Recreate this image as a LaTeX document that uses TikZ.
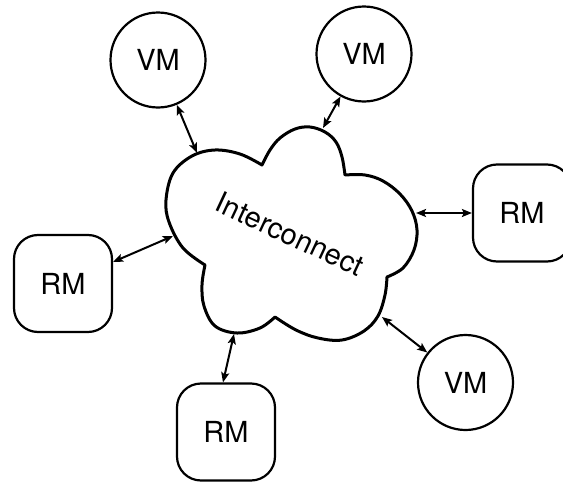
\documentclass[tikz,border=0pt]{standalone}
\usepackage{fontspec}
\setmainfont{TeX Gyre Heros}
\usetikzlibrary{arrows.meta}
\begin{document}
\begin{tikzpicture}[x=1pt,y=-1pt,
  vmnode/.style={circle,draw,line width=2.2pt,minimum size=95pt,inner sep=0pt,font=\fontsize{29}{34}\selectfont},
  rmnode/.style={rectangle,rounded corners=24pt,draw,line width=2.2pt,minimum width=98pt,minimum height=97pt,inner sep=0pt,font=\fontsize{29}{34}\selectfont},
  link/.style={line width=2pt,{Stealth[length=10pt,width=8pt,inset=2pt]}-{Stealth[length=10pt,width=8pt,inset=2pt]}},
  cloudline/.style={line width=3pt,line join=round}
]
\useasboundingbox (0,0) rectangle (563,482);
% cloud outline
\draw[cloudline]
  plot[smooth,tension=0.6] coordinates {(262,165) (270,150) (280,138) (295,129) (310,127) (325,132) (336,142) (342,157) (345,175)}
  -- plot[smooth,tension=0.6] coordinates {(345,175) (365,175) (383,181) (400,194) (412,211) (417,230) (414,250) (403,268) (387,277)}
  -- plot[smooth,tension=0.6] coordinates {(387,277) (385,295) (378,316) (364,331) (342,340) (318,338) (296,330) (275,317)}
  -- plot[smooth,tension=0.6] coordinates {(275,317) (260,328) (237,333) (215,326) (204,306) (202,285) (205,265)}
  -- plot[smooth,tension=0.6] coordinates {(205,265) (183,248) (169,222) (166,200) (173,173) (192,156) (215,150) (240,154) (262,165)}
  -- cycle;
\node[font=\fontsize{29}{34}\selectfont,rotate=-25] (ic) at (290,234) {Interconnect};
% attachment points on the cloud
\coordinate (c1) at (197,153);
\coordinate (c2) at (323,128);
\coordinate (c3) at (416,213);
\coordinate (c4) at (173,236);
\coordinate (c5) at (234,334);
\coordinate (c6) at (382,317);
% nodes
\node[vmnode] (vm1) at (158,60) {VM};
\node[vmnode] (vm2) at (364,54) {VM};
\node[vmnode] (vm3) at (465.5,382.5) {VM};
\node[rmnode] (rm1) at (522,213) {RM};
\node[rmnode] (rm2) at (63,283.5) {RM};
\node[rmnode] (rm3) at (226,432) {RM};
% connectors
\draw[link] (vm1) -- (c1);
\draw[link] (vm2) -- (c2);
\draw[link] (rm1) -- (c3);
\draw[link] (rm2) -- (c4);
\draw[link] ([xshift=-3pt]rm3.north) -- (c5);
\draw[link] (vm3) -- (c6);
\end{tikzpicture}
\end{document}
